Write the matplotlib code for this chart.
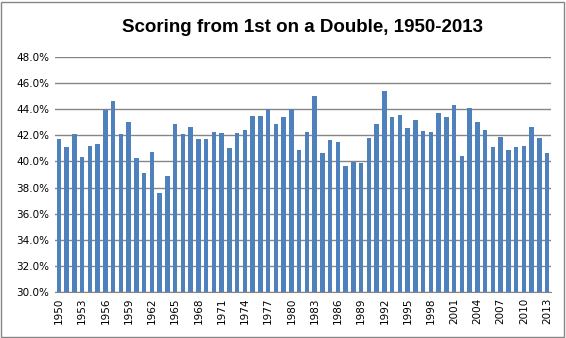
import matplotlib.pyplot as plt
from matplotlib.patches import Rectangle
import numpy as np

#  -- data --
years = list(range(1950, 2014))
pct = [41.72, 41.10, 42.13, 40.33, 41.18, 41.33, 43.95, 44.64, 42.13, 43.03,
       40.26, 39.10, 40.74, 37.56, 38.87, 42.87, 42.10, 42.64, 41.72, 41.72,
       42.26, 42.18, 41.03, 42.18, 42.41, 43.49, 43.49, 44.00, 42.87, 43.41,
       44.00, 40.87, 42.26, 45.03, 40.64, 41.64, 41.49, 39.64, 39.97, 39.87,
       41.79, 42.87, 45.41, 43.41, 43.56, 42.56, 43.18, 42.33, 42.26, 43.72,
       43.41, 44.33, 40.41, 44.10, 43.03, 42.41, 41.10, 41.87, 40.87, 41.10,
       41.18, 42.64, 41.79, 40.64]
title = "Scoring from 1st on a Double, 1950-2013"

fig = plt.figure(figsize=(5.66, 3.38), dpi=100)
ax = fig.add_axes([55 / 566, 1 - 292 / 338, (551 - 55) / 566, (292 - 57) / 338])

x = np.arange(len(years))
ax.bar(x, pct, width=0.6, color="#4F81BD", bottom=0, zorder=3)

ax.set_ylim(30, 48)
ax.set_xlim(-0.5, len(years) - 0.5)
ax.set_yticks(np.arange(30, 48.1, 2))
ax.set_yticklabels([f"{v:.1f}%" for v in np.arange(30, 48.1, 2)],
                   fontsize=7.5, family="DejaVu Sans")
ax.yaxis.grid(True, color="#868686", linewidth=1, zorder=0)
ax.set_xticks(x[::3])
ax.set_xticklabels([str(y) for y in years[::3]], rotation=90,
                   fontsize=7.5, family="DejaVu Sans")
ax.tick_params(length=0, pad=4)

for s in ["top", "right", "left"]:
    ax.spines[s].set_visible(False)
ax.spines["bottom"].set_color("#868686")
ax.spines["bottom"].set_zorder(4)

fig.text(303 / 566, 1 - 28 / 338, title, ha="center", va="center",
         fontsize=13.5, fontweight="bold", family="Liberation Sans")

fig.patches.append(Rectangle((1 / 566, 1 / 338), 563 / 566, 335 / 338,
                             transform=fig.transFigure, fill=False,
                             edgecolor="#868686", linewidth=1))

fig.savefig("out.png", dpi=100)
